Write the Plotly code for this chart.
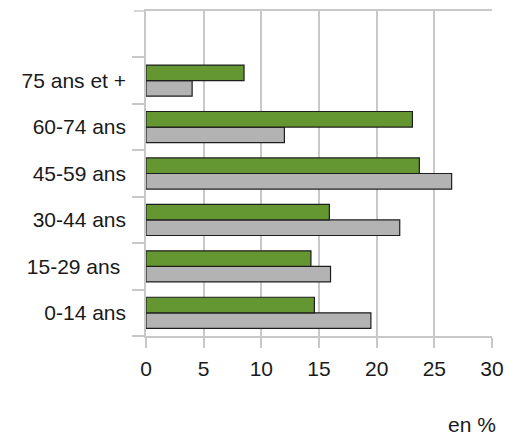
import plotly.graph_objects as go

# Age groups, bottom to top
categories = ["0-14 ans", "15-29 ans ", "30-44 ans", "45-59 ans", "60-74 ans", "75 ans et +"]
serie_grise = [19.5, 16.0, 22.0, 26.5, 12.0, 4.0]
serie_verte = [14.6, 14.3, 15.9, 23.7, 23.1, 8.5]
x_ticks = [0, 5, 10, 15, 20, 25, 30]

FONT = "Liberation Sans, Arial, sans-serif"
GRID = "#c8c8c8"
OUTLINE = "#1e1e1e"
PLOT_W = 506 - 146 - 14

fig = go.Figure()
fig.add_trace(go.Bar(
    y=categories, x=serie_grise, orientation="h", name="Série 2",
    marker=dict(color="#b3b3b3", line=dict(color=OUTLINE, width=1.2)),
))
fig.add_trace(go.Bar(
    y=categories, x=serie_verte, orientation="h", name="Série 1",
    marker=dict(color="#649732", line=dict(color=OUTLINE, width=1.2)),
))

fig.update_layout(
    width=506, height=435,
    margin=dict(l=146, r=14, t=11, b=99, autoexpand=False),
    paper_bgcolor="white", plot_bgcolor="white",
    barmode="group", bargap=0.33, bargroupgap=0,
    showlegend=False,
    font=dict(family=FONT, size=21, color="#1a1a1a"),
    annotations=[dict(
        text="en %", xref="paper", yref="paper",
        x=1.016, y=-0.271, xanchor="right", yanchor="middle",
        showarrow=False, font=dict(family=FONT, size=21, color="#1a1a1a"),
    )],
    # short tick at the top edge of the category axis
    shapes=[dict(
        type="line", xref="paper", yref="paper",
        x0=-12 / PLOT_W, x1=0, y0=1, y1=1,
        line=dict(color=GRID, width=1.5),
    )],
)

fig.update_xaxes(
    range=[0, 30], tickvals=x_ticks, ticktext=[str(v) for v in x_ticks],
    showgrid=True, gridcolor=GRID, gridwidth=1.5,
    showline=True, linecolor=GRID, linewidth=1.5, mirror=True,
    ticks="outside", ticklen=10, tickcolor=GRID, tickwidth=1.5,
    ticklabelstandoff=3, zeroline=False, fixedrange=True, automargin=False,
)
fig.update_yaxes(
    type="category", categoryorder="array", categoryarray=categories,
    range=[-0.5, 6.5], tickson="boundaries",
    showgrid=False,
    showline=True, linecolor=GRID, linewidth=1.5,
    ticks="outside", ticklen=12, tickcolor=GRID, tickwidth=1.5,
    ticklabelstandoff=14, fixedrange=True, automargin=False,
)

fig.write_html("out.html")
